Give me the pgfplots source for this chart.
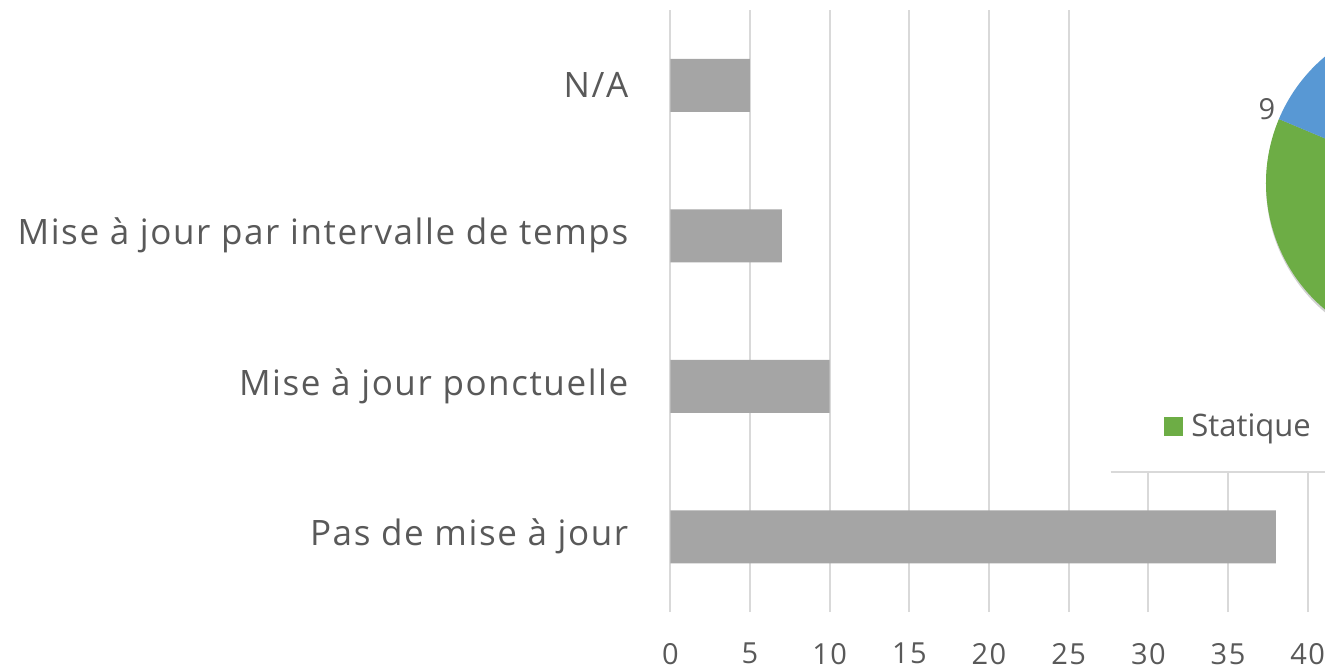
\documentclass[border=0pt]{standalone}
\usepackage{pgfplots}
\pgfplotsset{compat=1.18}
\usepackage{fontspec}
\setmainfont{Open Sans}
\definecolor{txt}{HTML}{595959}
\definecolor{gridc}{HTML}{D9D9D9}
\definecolor{barc}{HTML}{A5A5A5}
\definecolor{piegreen}{HTML}{6DAD45}
\definecolor{pieblue}{HTML}{5898D4}
\begin{document}
\begin{tikzpicture}
\useasboundingbox (0,0) rectangle (662.5pt,334.5pt);
\begin{axis}[
  at={(335.15pt,28.5pt)}, anchor=south west,
  scale only axis, width=318.7pt, height=301pt,
  xmin=0, xmax=40, ymin=-0.5, ymax=3.5,
  xbar, bar width=26.5pt,
  xtick={0,5,...,40},
  ytick={0,1,2,3},
  yticklabels={Pas de mise à jour, Mise à jour ponctuelle, Mise à jour par intervalle de temps, N/A},
  xmajorgrids, major grid style={gridc, line width=1pt},
  axis line style={draw=none},
  major tick length=0pt,
  tick label style={text=txt},
  yticklabel style={font=\fontsize{17.5}{19}\selectfont\addfontfeatures{LetterSpace=4.5}, xshift=-17.5pt},
  xticklabel style={font=\fontsize{14.5}{16}\selectfont\addfontfeatures{LetterSpace=5}, yshift=-12pt},
  /pgf/number format/assume math mode=true,
  clip=false,
]
\addplot[fill=barc, draw=none] coordinates {(38,0) (10,1) (7,2) (5,3)};
\end{axis}
\begin{scope}
\clip (0,0) rectangle (662.5pt,334.5pt);
\fill[white] (555.35pt,98.65pt) rectangle (670pt,340pt);
\draw[gridc, line width=1pt] (555.35pt,98.65pt) -- (670pt,98.65pt);
\fill[black!18] (716.5pt,242pt) circle (83.5pt);
\fill[piegreen] (715.5pt,243pt) -- ++(157.2:82.5pt) arc (157.2:300:82.5pt) -- cycle;
\fill[pieblue] (715.5pt,243pt) -- ++(60:82.5pt) arc (60:157.2:82.5pt) -- cycle;
\node[text=txt, font=\fontsize{14.5}{16}\selectfont] at (633.5pt,280pt) {9};
\fill[piegreen] (582pt,116.5pt) rectangle (591.5pt,126pt);
\node[text=txt, font=\fontsize{15.5}{17}\selectfont, anchor=base west, inner sep=0pt] at (595.5pt,116.5pt) {Statique};
\end{scope}
\end{tikzpicture}
\end{document}
